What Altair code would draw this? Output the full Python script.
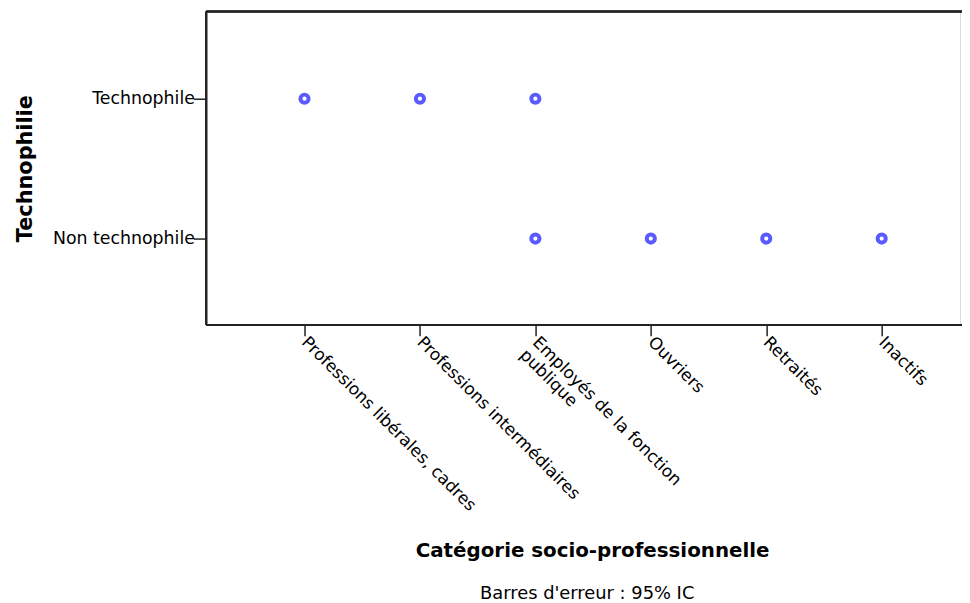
import altair as alt
import pandas as pd

categories = [
    "Professions libérales, cadres",
    "Professions intermédiaires",
    "Employés de la fonction publique",
    "Ouvriers",
    "Retraités",
    "Inactifs",
]
levels = ["Technophile", "Non technophile"]

point_cat = [
    "Professions libérales, cadres",
    "Professions intermédiaires",
    "Employés de la fonction publique",
    "Employés de la fonction publique",
    "Ouvriers",
    "Retraités",
    "Inactifs",
]
point_level = [
    "Technophile",
    "Technophile",
    "Technophile",
    "Non technophile",
    "Non technophile",
    "Non technophile",
    "Non technophile",
]

df = pd.DataFrame({"cat": point_cat, "level": point_level})

W, H = 760, 316
FONT = "DejaVu Sans"
LINE = "#222222"

label_expr = (
    "datum.label == 'Employés de la fonction publique' ? "
    "['Employés de la fonction', 'publique'] : datum.label"
)

points = alt.Chart(df).mark_point(
    shape="circle", filled=False, fill="white", color="#5a5aff",
    strokeWidth=4, size=68, opacity=1
).encode(
    x=alt.X("cat:N", sort=categories,
            scale=alt.Scale(type="point", domain=categories, range=[99, 681], padding=0),
            axis=alt.Axis(
                title="Catégorie socio-professionnelle",
                labelAngle=45, labelAlign="left", labelBaseline="top",
                labelExpr=label_expr, labelFontSize=17, labelFont=FONT,
                labelColor="black", labelPadding=-2, labelOffset=5, labelLimit=400,
                labelLineHeight=18,
                tickSize=11, tickColor=LINE, tickWidth=1.5, domain=False,
                titleFont=FONT, titleFontSize=20, titleFontWeight="bold",
                titleColor="black", titleX=389, titleY=234,
                titleAlign="center", titleBaseline="alphabetic",
                grid=False,
            )),
    y=alt.Y("level:N", sort=levels,
            scale=alt.Scale(type="point", domain=levels, range=[88, 229], padding=0),
            axis=alt.Axis(
                title="Technophilie",
                labelFontSize=17.5, labelFont=FONT, labelColor="black",
                labelPadding=-1, tickSize=13, tickColor=LINE, tickWidth=1.5,
                domain=False, grid=False,
                titleFont=FONT, titleFontSize=21, titleFontWeight="bold",
                titleColor="black", titleX=-172, titleY=158,
                titleAngle=-90, titleAlign="center", titleBaseline="bottom",
            )),
)

top_line = alt.Chart(df).mark_rule(color=LINE, strokeWidth=1.5).encode(
    x=alt.value(0), x2=alt.value(W + 12), y=alt.value(0)
)
bottom_line = alt.Chart(df).mark_rule(color=LINE, strokeWidth=1.5).encode(
    x=alt.value(0), x2=alt.value(W + 12), y=alt.value(H)
)
left_line = alt.Chart(df).mark_rule(color=LINE, strokeWidth=1.5).encode(
    x=alt.value(0), y=alt.value(0), y2=alt.value(H)
)

chart = alt.layer(top_line, bottom_line, left_line, points).properties(
    width=W, height=H,
    title=alt.Title("Barres d'erreur : 95% IC", orient="bottom", anchor="start",
                    font=FONT, fontSize=18, fontWeight="normal", color="black",
                    offset=24, dx=469),
    autosize=alt.AutoSizeParams(type="none"),
    padding={"left": 200, "top": 1, "right": 2, "bottom": 277},
).configure_view(strokeWidth=0).configure(background="white")

chart.save("out.html", embed_options={"renderer": "svg", "actions": False})
